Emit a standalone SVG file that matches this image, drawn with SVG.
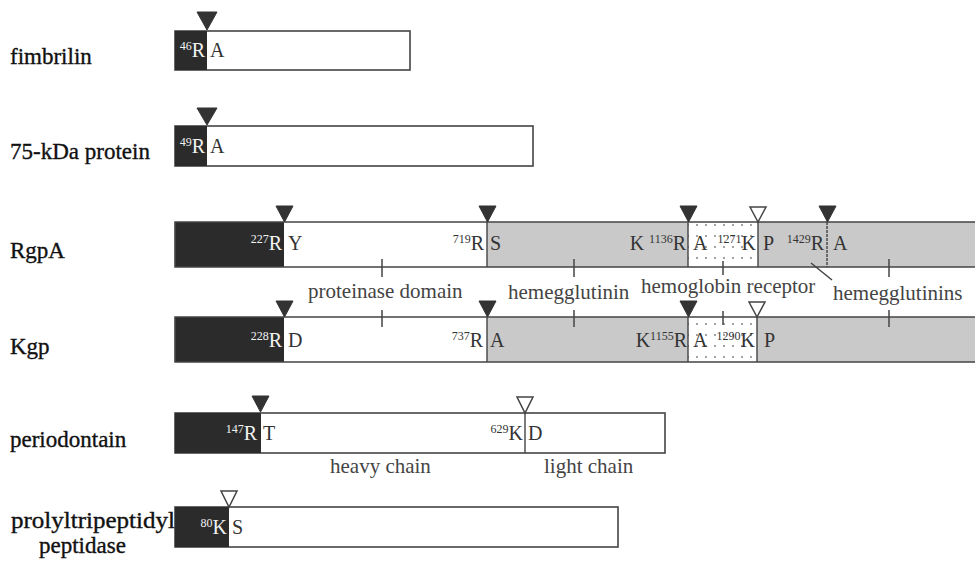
<svg xmlns="http://www.w3.org/2000/svg" width="975" height="564" viewBox="0 0 975 564">
<defs>
<pattern id="dots" x="0" y="0" width="9" height="11" patternUnits="userSpaceOnUse">
<rect width="9" height="11" fill="#ffffff"/>
<circle cx="4" cy="5" r="0.9" fill="#777"/>
</pattern>
<style>
.lbl{font-family:"Liberation Serif","Times New Roman",serif;font-size:23px;fill:#111;stroke:#111;stroke-width:0.35}
.t{font-family:"Liberation Serif","Times New Roman",serif;font-size:20px;fill:#333}
.w{fill:#f2f2f2}
.sup{font-size:12px}
.dom{font-family:"Liberation Serif","Times New Roman",serif;font-size:21px;fill:#444}
.box{fill:#ffffff;stroke:#444;stroke-width:1.6}
.dark{fill:#2b2b2b}
.gray{fill:#c9c9c9}
.edge{stroke:#444;stroke-width:1.6;fill:none}
.cut{stroke:#444;stroke-width:1.4}
.tf{fill:#333;stroke:#333;stroke-width:1}
.to{fill:#fff;stroke:#444;stroke-width:1.5}
.tick{stroke:#444;stroke-width:1.5}
</style>
</defs>

<g id="fimbrilin">
<text class="lbl" x="10" y="64">fimbrilin</text>
<rect class="box" x="175" y="31" width="235" height="39"/>
<rect class="dark" x="175" y="31" width="32" height="39"/>
<polygon class="tf" points="197,12 217,12 207,30"/>
<text class="t w" x="205" y="57" text-anchor="end"><tspan class="sup" dy="-7">46</tspan><tspan dy="7">R</tspan></text>
<text class="t" x="210" y="57">A</text>
</g>

<g id="p75kDa">
<text class="lbl" x="10" y="159">75-kDa protein</text>
<rect class="box" x="175" y="126" width="358" height="40"/>
<rect class="dark" x="175" y="126" width="32" height="40"/>
<polygon class="tf" points="197,108 217,108 207,125"/>
<text class="t w" x="205" y="153" text-anchor="end"><tspan class="sup" dy="-7">49</tspan><tspan dy="7">R</tspan></text>
<text class="t" x="210" y="153">A</text>
</g>

<g id="RgpA">
<text class="lbl" x="10" y="258">RgpA</text>
<rect x="175" y="222" width="800" height="45" fill="#fff"/>
<rect class="dark" x="175" y="222" width="109" height="45"/>
<rect class="gray" x="487" y="222" width="201" height="45"/>
<rect x="688" y="222" width="70" height="45" fill="url(#dots)"/>
<rect class="gray" x="758" y="222" width="217" height="45"/>
<path class="edge" d="M976,222 H175 V267 H976"/>
<line class="cut" x1="487" y1="222" x2="487" y2="267"/>
<line class="cut" x1="688" y1="222" x2="688" y2="267"/>
<line class="cut" x1="758" y1="222" x2="758" y2="267"/>
<line class="cut" x1="827" y1="222" x2="827" y2="267" stroke-dasharray="3,1"/>
<polygon class="tf" points="276,206 293,206 284.5,222"/>
<polygon class="tf" points="479,206 496,206 487.5,222"/>
<polygon class="tf" points="680,206 697,206 688.5,222"/>
<polygon class="to" points="750,207 766,207 758,222"/>
<polygon class="tf" points="819,206 836,206 827.5,222"/>
<text class="t w" x="282" y="250" text-anchor="end"><tspan class="sup" dy="-7">227</tspan><tspan dy="7">R</tspan></text>
<text class="t" x="288" y="250">Y</text>
<text class="t" x="484" y="250" text-anchor="end"><tspan class="sup" dy="-7">719</tspan><tspan dy="7">R</tspan></text>
<text class="t" x="490" y="250">S</text>
<text class="t" x="686" y="250" text-anchor="end">K <tspan class="sup" dy="-7">1136</tspan><tspan dy="7">R</tspan></text>
<text class="t" x="693" y="250">A</text>
<text class="t" x="756" y="250" text-anchor="end"><tspan class="sup" dy="-7">1271</tspan><tspan dy="7">K</tspan></text>
<text class="t" x="763" y="250">P</text>
<text class="t" x="824" y="250" text-anchor="end"><tspan class="sup" dy="-7">1429</tspan><tspan dy="7">R</tspan></text>
<text class="t" x="833" y="250">A</text>
</g>

<g id="Kgp">
<text class="lbl" x="10" y="354">Kgp</text>
<rect x="175" y="317" width="800" height="45" fill="#fff"/>
<rect class="dark" x="175" y="317" width="109" height="45"/>
<rect class="gray" x="487" y="317" width="201" height="45"/>
<rect x="688" y="317" width="69" height="45" fill="url(#dots)"/>
<rect class="gray" x="757" y="317" width="218" height="45"/>
<path class="edge" d="M976,317 H175 V362 H976"/>
<line class="cut" x1="487" y1="317" x2="487" y2="362"/>
<line class="cut" x1="688" y1="317" x2="688" y2="362"/>
<line class="cut" x1="757" y1="317" x2="757" y2="362"/>
<polygon class="tf" points="276,301 293,301 284.5,317"/>
<polygon class="tf" points="479,301 496,301 487.5,317"/>
<polygon class="tf" points="680,301 697,301 688.5,317"/>
<polygon class="to" points="749,302 765,302 757,317"/>
<text class="t w" x="282" y="347" text-anchor="end"><tspan class="sup" dy="-7">228</tspan><tspan dy="7">R</tspan></text>
<text class="t" x="288" y="347">D</text>
<text class="t" x="483" y="347" text-anchor="end"><tspan class="sup" dy="-7">737</tspan><tspan dy="7">R</tspan></text>
<text class="t" x="490" y="347">A</text>
<text class="t" x="687" y="347" text-anchor="end">K<tspan class="sup" dy="-7">1155</tspan><tspan dy="7">R</tspan></text>
<text class="t" x="693" y="347">A</text>
<text class="t" x="755" y="347" text-anchor="end"><tspan class="sup" dy="-7">1290</tspan><tspan dy="7">K</tspan></text>
<text class="t" x="764" y="347">P</text>
</g>

<g id="domains">
<text class="dom" x="308" y="298">proteinase domain</text>
<text class="dom" x="508" y="299">hemegglutinin</text>
<text class="dom" x="641" y="293">hemoglobin receptor</text>
<text class="dom" x="833" y="300">hemegglutinins</text>
</g>

<g id="connectors">
<line class="tick" x1="382" y1="259" x2="382" y2="277"/>
<line class="tick" x1="574" y1="259" x2="574" y2="277"/>
<line class="tick" x1="723" y1="261" x2="723" y2="275"/>
<line class="tick" x1="889" y1="259" x2="889" y2="277"/>
<line class="tick" x1="382" y1="310" x2="382" y2="327"/>
<line class="tick" x1="574" y1="310" x2="574" y2="327"/>
<line class="tick" x1="723" y1="311" x2="723" y2="325"/>
<line class="tick" x1="889" y1="310" x2="889" y2="327"/>
<line class="tick" x1="811" y1="263" x2="832" y2="280" stroke-width="2"/>
</g>

<g id="periodontain">
<text class="lbl" x="10" y="447">periodontain</text>
<rect class="box" x="175" y="413" width="490" height="40"/>
<rect class="dark" x="175" y="413" width="86" height="40"/>
<line class="cut" x1="525" y1="413" x2="525" y2="453"/>
<polygon class="tf" points="252,396 269,396 260.5,412"/>
<polygon class="to" points="517,397 533,397 525,413"/>
<text class="t w" x="257" y="440" text-anchor="end"><tspan class="sup" dy="-7">147</tspan><tspan dy="7">R</tspan></text>
<text class="t" x="263" y="440">T</text>
<text class="t" x="523" y="440" text-anchor="end"><tspan class="sup" dy="-7">629</tspan><tspan dy="7">K</tspan></text>
<text class="t" x="528" y="440">D</text>
<text class="dom" x="330" y="473">heavy chain</text>
<text class="dom" x="544" y="473">light chain</text>
</g>

<g id="prolyltripeptidyl">
<text class="lbl" x="11" y="528" textLength="164" lengthAdjust="spacingAndGlyphs">prolyltripeptidyl</text>
<text class="lbl" x="39" y="553">peptidase</text>
<rect class="box" x="175" y="507" width="443" height="40"/>
<rect class="dark" x="175" y="507" width="54" height="40"/>
<polygon class="to" points="221,491 237,491 229,507"/>
<text class="t w" x="227" y="534" text-anchor="end"><tspan class="sup" dy="-7">80</tspan><tspan dy="7">K</tspan></text>
<text class="t" x="232" y="534">S</text>
</g>
</svg>
